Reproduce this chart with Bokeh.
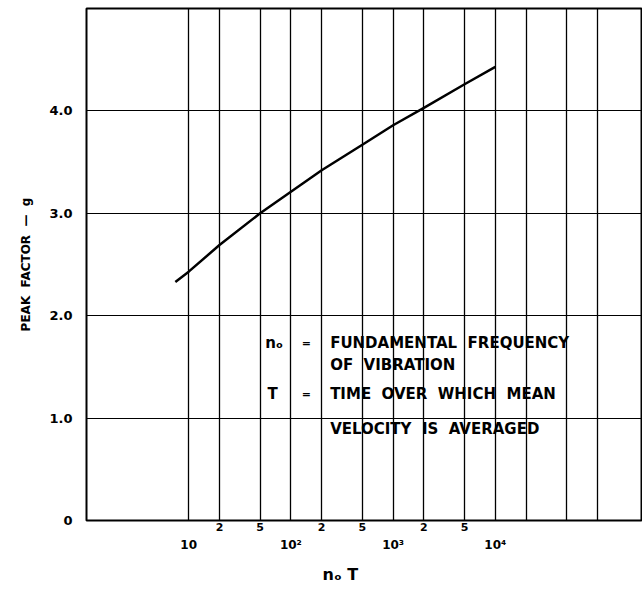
from bokeh.plotting import figure
from bokeh.models import Range1d, FixedTicker, LogAxis, ColumnDataSource, Title
from bokeh.core.properties import value
from bokeh.embed import file_html
from bokeh.resources import INLINE

# ---- data ----
n0T = [7.4, 10, 20, 50, 100, 200, 500, 1000, 2000, 5000, 10000]
peak_factor = [2.33, 2.43, 2.69, 3.00, 3.21, 3.42, 3.67, 3.86, 4.03, 4.26, 4.43]

x_grid = [10, 20, 50, 100, 200, 500, 1000, 2000, 5000,
          10000, 20000, 50000, 100000]
x_major_ticks = [10, 100, 1000, 10000]
x_major_labels = ["10", "10²", "10³", "10⁴"]
x_minor_ticks = [20, 50, 200, 500, 2000, 5000]
x_minor_labels = ["2", "5", "2", "5", "2", "5"]
y_ticks = [0, 1, 2, 3, 4]
y_tick_labels = ["0", "1.0", "2.0", "3.0", "4.0"]
y_grid = [1, 2, 3, 4]

x_title = "nₒ T"
y_title = "PEAK\u00a0 FACTOR\u00a0 —\u00a0 g"
note_symbols = ["nₒ", "T"]
note_equals = ["=", "="]
note_texts = ["FUNDAMENTAL\u00a0 FREQUENCY", "OF\u00a0 VIBRATION",
              "TIME\u00a0 OVER\u00a0 WHICH\u00a0 MEAN",
              "VELOCITY\u00a0 IS\u00a0 AVERAGED"]

FONT = "DejaVu Sans"

p = figure(width=642, height=591, x_axis_type="log",
           x_range=Range1d(1, 10 ** 5.44), y_range=Range1d(0, 5),
           output_backend="svg", toolbar_location=None, title=None,
           min_border_left=86, min_border_right=0, min_border_top=8,
           min_border_bottom=71)
p.background_fill_color = "white"
p.border_fill_color = "white"
p.outline_line_color = "black"
p.outline_line_width = 2

# grids
p.xgrid.ticker = FixedTicker(ticks=x_grid)
p.ygrid.ticker = FixedTicker(ticks=y_grid)
p.xgrid.grid_line_color = "black"
p.xgrid.grid_line_width = 1.3
p.ygrid.grid_line_color = "black"
p.ygrid.grid_line_width = 1.2


def style_axis(ax, size):
    ax.axis_line_color = None
    ax.major_tick_line_color = None
    ax.minor_tick_line_color = None
    ax.major_tick_out = 0
    ax.major_tick_in = 0
    ax.minor_tick_out = 0
    ax.minor_tick_in = 0
    ax.major_label_text_font = FONT
    ax.major_label_text_font_style = "bold"
    ax.major_label_text_font_size = size
    ax.major_label_text_color = "black"
    ax.axis_label_text_font = FONT
    ax.axis_label_text_font_style = "bold"
    ax.axis_label_text_font_size = "12px"
    ax.axis_label_text_color = "black"


# minor x labels ("2", "5") right below the frame
xa = p.xaxis[0]
xa.ticker = FixedTicker(ticks=x_minor_ticks)
xa.major_label_overrides = dict(zip(x_minor_ticks, x_minor_labels))
style_axis(xa, "11px")
xa.major_label_standoff = 2

# major x labels (decades)
xa2 = LogAxis(ticker=FixedTicker(ticks=x_major_ticks))
xa2.major_label_overrides = dict(zip(x_major_ticks, x_major_labels))
style_axis(xa2, "12px")
xa2.major_label_standoff = 4
p.add_layout(xa2, "below")

# x-axis title, under the 10^2..10^3 decade as in the original
p.add_layout(Title(text=x_title, align="left", offset=236, standoff=16,
                   text_font=FONT, text_font_style="bold",
                   text_font_size="16px", text_color="black"), "below")

ya = p.yaxis[0]
ya.ticker = FixedTicker(ticks=y_ticks)
ya.major_label_overrides = dict(zip(y_ticks, y_tick_labels))
style_axis(ya, "13px")
ya.axis_label_text_font_size = "12px"
ya.major_label_standoff = 14
ya.axis_label = y_title
ya.axis_label_standoff = 13

# curve
src = ColumnDataSource(dict(x=n0T, y=peak_factor))
p.line("x", "y", source=src, line_color="black", line_width=2.5)

# notes
sym_src = ColumnDataSource(dict(x=[56, 59], y=[1.73, 1.235], t=note_symbols))
eq_src = ColumnDataSource(dict(x=[128, 128], y=[1.73, 1.235], t=note_equals))
txt_src = ColumnDataSource(dict(x=[242, 242, 242, 242],
                                y=[1.73, 1.52, 1.235, 0.895], t=note_texts))
for s, fs in ((sym_src, "15px"), (eq_src, "11px"), (txt_src, "15px")):
    p.text("x", "y", text="t", source=s, text_font=value(FONT),
           text_font_style="bold", text_font_size=fs, text_color="black",
           text_align="left", text_baseline="middle")

open("out.html", "w").write(file_html(p, INLINE))
